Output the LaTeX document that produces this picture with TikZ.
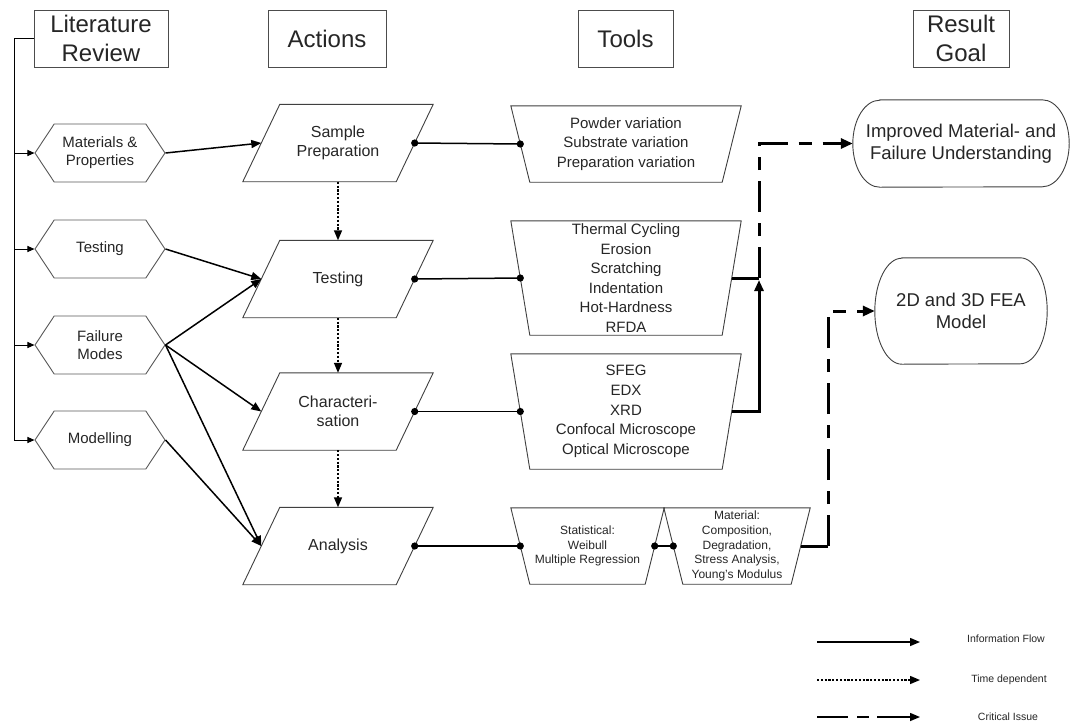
\documentclass[tikz,border=0pt]{standalone}
\usepackage{fontspec}
\setmainfont{Liberation Sans}
\usetikzlibrary{shapes.geometric,shapes.misc,shapes.symbols,arrows.meta,calc}
\newcommand{\fsz}[2]{\fontsize{#1}{#2}\selectfont}
\begin{document}
\begin{tikzpicture}[x=1pt,y=-1pt,
  every node/.style={text=black!85},
  shapeline/.style={draw=black!75, line width=0.9pt},
  hdr/.style={draw=black!70, line width=0.9pt, rectangle, minimum height=57pt, inner sep=0pt, align=center, font=\fsz{24}{29}},
  hexa/.style={signal, signal to=west and east, signal pointer angle=113, draw=black!65, line width=0.9pt, minimum width=130pt, minimum height=58pt, inner sep=0pt, align=center, font=\fsz{15}{18}},
  actbox/.style={rectangle, minimum width=190pt, minimum height=77pt, inner sep=0pt, align=center, font=\fsz{16}{19}},
  toolbox/.style={rectangle, inner sep=0pt, align=center},
  resbox/.style={rectangle, inner sep=0pt, align=center, font=\fsz{18.5}{22}},
  flow/.style={line width=1.5pt, -{Triangle[length=10pt,width=8pt]}},
  tflow/.style={line width=1.5pt, dash pattern=on 2.2pt off 1.6pt, -{Triangle[length=10pt,width=8pt]}},
  plain/.style={line width=1.5pt},
  critsolid/.style={line width=3pt},
  critdash/.style={line width=3pt, dash pattern=on 31pt off 11pt on 13pt off 11pt, -{Triangle[length=12pt,width=10pt]}},
  busline/.style={line width=1pt},
  busarrow/.style={line width=1pt, -{Triangle[length=7pt,width=6pt]}},
  legendtext/.style={font=\fsz{10.5}{12}, inner sep=0pt}
]
\useasboundingbox[fill=white] (0,0) rectangle (1070,726);

% headers
\node[hdr, minimum width=134pt] (lit) at (101,38.5) {Literature\\Review};
\node[hdr, minimum width=118pt] (acth) at (327,38.5) {Actions};
\node[hdr, minimum width=95pt] (toolh) at (625.5,38.5) {Tools};
\node[hdr, minimum width=96pt] (resh) at (961,38.5) {Result\\Goal};

% literature hexagons
\node[hexa] (mat) at (100,153) {Materials \&\\Properties};
\node[hexa] (tst) at (100,249) {Testing};
\node[hexa] (fail) at (100,345) {Failure\\Modes};
\node[hexa] (mod) at (100,440) {Modelling};

% actions (parallelograms)
\node[actbox] (sp) at (338,143) {Sample\\Preparation};
\node[actbox] (ts) at (338,279) {Testing};
\node[actbox] (ch) at (338,411.5) {Characteri-\\sation};
\node[actbox] (an) at (338,546) {Analysis};
\foreach \n in {sp,ts,ch,an}{
  \draw[shapeline] (\n.south west) -- ($(\n.south east)+(-37,0)$) -- (\n.north east) -- ($(\n.north west)+(37,0)$) -- cycle;
  \coordinate (\n-l) at ($(\n.west)+(18.5,0)$);
  \coordinate (\n-r) at ($(\n.east)+(-18.5,0)$);
}

% tools (inverted trapezoids)
\node[toolbox, minimum width=230pt, minimum height=76pt, font=\fsz{15}{19.5}] (pw) at (626,144) {Powder variation\\Substrate variation\\Preparation variation};
\node[toolbox, minimum width=230pt, minimum height=114pt, font=\fsz{15}{19.6}] (th) at (626,278) {Thermal Cycling\\Erosion\\Scratching\\Indentation\\Hot-Hardness\\RFDA};
\node[toolbox, minimum width=230pt, minimum height=115pt, font=\fsz{15}{19.6}] (sf) at (626,411.5) {SFEG\\EDX\\XRD\\Confocal Microscope\\Optical Microscope};
\node[toolbox, minimum width=153pt, minimum height=76pt, font=\fsz{12}{14.5}] (st) at (587.5,546) {Statistical:\\Weibull\\Multiple Regression};
\node[toolbox, minimum width=146pt, minimum height=76pt, font=\fsz{12}{14.7}] (ma) at (737,546) {Material:\\Composition,\\Degradation,\\Stress Analysis,\\Young's Modulus};
\foreach \n in {pw,th,sf,st,ma}{
  \draw[shapeline] (\n.north west) -- (\n.north east) -- ($(\n.south east)+(-19,0)$) -- ($(\n.south west)+(19,0)$) -- cycle;
  \coordinate (\n-l) at ($(\n.west)+(9.5,0)$);
  \coordinate (\n-r) at ($(\n.east)+(-9.5,0)$);
}

% results (rounded ends)
\node[resbox, minimum width=216pt, minimum height=87pt] (imp) at (961,143.5) {Improved Material- and\\Failure Understanding};
\node[resbox, minimum width=172pt, minimum height=106pt] (fea) at (961,311) {2D and 3D FEA\\Model};
\draw[shapeline] ($(imp.north west)+(27,0)$) -- ($(imp.north east)+(-27,0)$)
  arc[start angle=90, end angle=-90, x radius=27pt, y radius=43.5pt]
  -- ($(imp.south west)+(27,0)$)
  arc[start angle=270, end angle=90, x radius=27pt, y radius=43.5pt] -- cycle;
\draw[shapeline] ($(fea.north west)+(27,0)$) -- ($(fea.north east)+(-27,0)$)
  arc[start angle=90, end angle=-90, x radius=27pt, y radius=53pt]
  -- ($(fea.south west)+(27,0)$)
  arc[start angle=270, end angle=90, x radius=27pt, y radius=53pt] -- cycle;

% literature bus
\coordinate (bustop) at (14,38.5);
\coordinate (busbot) at (14,440);
\draw[busline] (lit.west) -- (bustop) -- (busbot);
\draw[busarrow] (bustop |- mat.west) -- (mat.west);
\draw[busarrow] (bustop |- tst.west) -- (tst.west);
\draw[busarrow] (bustop |- fail.west) -- (fail.west);
\draw[busarrow] (bustop |- mod.west) -- (mod.west);

% information flow to actions
\draw[flow] (mat.east) -- (sp-l);
\draw[flow] (tst.east) -- (ts-l);
\draw[flow] (fail.east) -- (ts-l);
\draw[flow] (fail.east) -- (ch-l);
\draw[flow] (fail.east) -- (an-l);
\draw[flow] (mod.east) -- (an-l);

% time dependent
\draw[tflow] (sp.south) -- (ts.north);
\draw[tflow] (ts.south) -- (ch.north);
\draw[tflow] (ch.south) -- (an.north);

% actions to tools
\draw[plain] (sp-r) -- (pw-l);
\draw[plain] (ts-r) -- (th-l);
\draw[plain] (ch-r) -- (sf-l);
\draw[plain] (an-r) -- (st-l);
\draw[plain] (st-r) -- (ma-l);
\foreach \p in {sp-r,pw-l,ts-r,th-l,ch-r,sf-l,an-r,st-l,st-r,ma-l}
  \fill (\p) circle (3.6pt);

% critical issues
\coordinate (j1) at (759,278);
\draw[critsolid] (th-r) -- (j1);
\draw[critsolid, -{Triangle[length=11pt,width=9pt]}] (sf-r) -- (j1 |- sf-r) -- ($(j1)+(0,2)$);
\draw[critdash] (j1) -- (j1 |- imp.west) -- (imp.west);
\coordinate (j2) at (828,546);
\draw[critsolid] (ma-r) -- (j2);
\draw[critdash] (j2) -- (j2 |- fea.west) -- (fea.west);

% legend
\coordinate (la1) at (817,642); \coordinate (lb1) at (920,642);
\coordinate (la2) at (817,680); \coordinate (lb2) at (920,680);
\coordinate (la3) at (817,717); \coordinate (lb3) at (920,717);
\draw[flow] (la1) -- (lb1);
\draw[tflow] (la2) -- (lb2);
\draw[line width=1.5pt, dash pattern=on 31pt off 9pt on 12pt off 8pt on 60pt, -{Triangle[length=10pt,width=8pt]}] (la3) -- (lb3);
\node[legendtext] (lt1) at (1006,639) {Information Flow};
\node[legendtext] (lt2) at (1009,680) {Time dependent};
\node[legendtext] (lt3) at (1008,717) {Critical Issue};
\end{tikzpicture}
\end{document}
